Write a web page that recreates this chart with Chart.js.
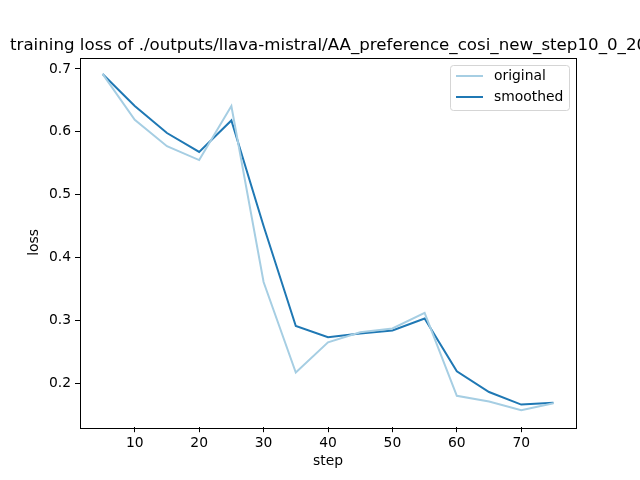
<!DOCTYPE html>
<html>
<head>
<meta charset="utf-8">
<script src="https://cdn.jsdelivr.net/npm/chart.js@4.4.1/dist/chart.umd.min.js"></script>
<style>
  html, body { margin: 0; padding: 0; background: #fff; }
  #wrap { width: 640px; height: 480px; }
</style>
</head>
<body>
<div id="wrap"><canvas id="lossChart" width="640" height="480"></canvas></div>
<script>
const steps = [5, 10, 15, 20, 25, 30, 35, 40, 45, 50, 55, 60, 65, 70, 75];
const original = [0.692, 0.619, 0.577, 0.555, 0.641, 0.361, 0.217, 0.265, 0.281, 0.287, 0.312, 0.180, 0.171, 0.157, 0.168];
const smoothed = [0.692, 0.641, 0.598, 0.568, 0.618, 0.450, 0.291, 0.273, 0.279, 0.284, 0.303, 0.219, 0.186, 0.166, 0.169];
const xTicks = [10, 20, 30, 40, 50, 60, 70];
const yTicks = [0.2, 0.3, 0.4, 0.5, 0.6, 0.7];

const titleText = 'training loss of ./outputs/llava-mistral/AA_preference_cosi_new_step10_0_20';
const font = 'DejaVu Sans';
const small = 13.89;

// frame, title and legend drawn like matplotlib does
const mplExtras = {
    id: 'mplExtras',
    beforeDraw(chart) {
        const c = chart.ctx;
        c.save();
        c.fillStyle = '#fff';
        c.fillRect(0, 0, chart.width, chart.height);
        c.restore();
    },
    afterDraw(chart) {
        const c = chart.ctx;
        const a = chart.chartArea;
        c.save();
        c.strokeStyle = '#000';
        c.lineWidth = 1;
        c.strokeRect(Math.round(a.left) + 0.5, Math.round(a.top) + 0.5,
            Math.round(a.right - a.left), Math.round(a.bottom - a.top));

        c.fillStyle = '#000';
        c.font = '16.67px "' + font + '"';
        c.textAlign = 'left';
        c.textBaseline = 'alphabetic';
        c.fillText(titleText, 10, 50);

        // legend
        const lx = 450.5, ly = 65.5, lw = 119, lh = 45, r = 3;
        c.beginPath();
        c.moveTo(lx + r, ly);
        c.arcTo(lx + lw, ly, lx + lw, ly + lh, r);
        c.arcTo(lx + lw, ly + lh, lx, ly + lh, r);
        c.arcTo(lx, ly + lh, lx, ly, r);
        c.arcTo(lx, ly, lx + lw, ly, r);
        c.closePath();
        c.fillStyle = 'rgba(255,255,255,0.8)';
        c.fill();
        c.strokeStyle = '#d5d5d5';
        c.lineWidth = 1;
        c.stroke();

        c.font = small + 'px "' + font + '"';
        c.textBaseline = 'middle';
        chart.data.datasets.forEach((ds, i) => {
            const y = 76 + i * 21;
            c.strokeStyle = ds.borderColor;
            c.lineWidth = 2;
            c.beginPath();
            c.moveTo(456, y);
            c.lineTo(483, y);
            c.stroke();
            c.fillStyle = '#000';
            c.fillText(ds.label, 494, y);
        });
        c.restore();
    }
};

const ctx = document.getElementById('lossChart').getContext('2d');
const lossChart = new Chart(ctx, {
    type: 'line',
    data: {
        datasets: [{
            label: 'original',
            data: steps.map((s, i) => ({ x: s, y: original[i] })),
            borderColor: '#a6cee3',
            borderWidth: 2,
            pointRadius: 0,
            tension: 0,
        }, {
            label: 'smoothed',
            data: steps.map((s, i) => ({ x: s, y: smoothed[i] })),
            borderColor: '#1f78b4',
            borderWidth: 2,
            pointRadius: 0,
            tension: 0,
        }],
    },
    options: {
        responsive: false,
        animation: false,
        devicePixelRatio: 1,
        layout: { padding: { top: 57.6, right: 64, left: 0, bottom: 0 } },
        plugins: {
            legend: { display: false },
            title: { display: false },
            tooltip: { enabled: false },
        },
        scales: {
            x: {
                type: 'linear',
                min: 1.5,
                max: 78.5,
                afterFit: s => { s.height = 52.8; },
                afterBuildTicks: s => { s.ticks = xTicks.map(v => ({ value: v })); },
                ticks: {
                    color: '#000',
                    font: { family: font, size: small },
                    padding: 3,
                    maxRotation: 0,
                    callback: v => String(v),
                },
                grid: { drawOnChartArea: false, drawTicks: true, tickLength: 5, color: '#000' },
                border: { display: false },
                title: {
                    display: true,
                    text: 'step',
                    color: '#000',
                    font: { family: font, size: small },
                    padding: { top: 0, bottom: 10 },
                },
            },
            y: {
                type: 'linear',
                min: 0.130,
                max: 0.718,
                afterFit: s => { s.width = 80; },
                afterBuildTicks: s => { s.ticks = yTicks.map(v => ({ value: v })); },
                ticks: {
                    color: '#000',
                    font: { family: font, size: small },
                    padding: 4,
                    callback: v => v.toFixed(1),
                },
                grid: { drawOnChartArea: false, drawTicks: true, tickLength: 5, color: '#000' },
                border: { display: false },
                title: {
                    display: true,
                    text: 'loss',
                    color: '#000',
                    font: { family: font, size: small },
                    padding: { top: 26, bottom: 0 },
                },
            },
        },
    },
    plugins: [mplExtras],
});
</script>
</body>
</html>
